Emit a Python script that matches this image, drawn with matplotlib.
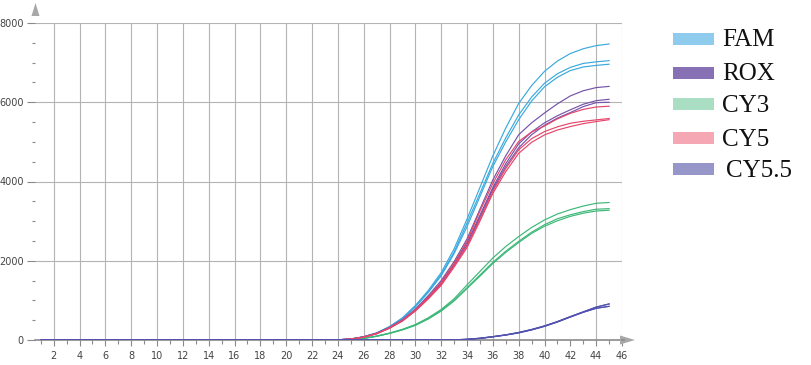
import matplotlib
matplotlib.use("Agg")
import matplotlib.pyplot as plt
from matplotlib.patches import Rectangle, Polygon

cycles = list(range(1, 46))
Z = [0] * 23  # cycles 1..23 are flat at baseline

fam = [
    Z + [5, 25, 85, 180, 340, 560, 870, 1250, 1700, 2300, 3050, 3850, 4650, 5350, 5970, 6420, 6780, 7040, 7230, 7350, 7430, 7470],
    Z + [5, 25, 80, 175, 330, 545, 850, 1220, 1650, 2220, 2950, 3700, 4460, 5100, 5680, 6130, 6480, 6720, 6880, 6980, 7020, 7050],
    Z + [5, 24, 78, 170, 325, 535, 835, 1200, 1620, 2180, 2860, 3620, 4380, 5000, 5560, 6030, 6390, 6630, 6800, 6890, 6930, 6960],
]
rox = [
    Z + [5, 25, 80, 170, 320, 510, 780, 1120, 1500, 1980, 2550, 3300, 4040, 4650, 5180, 5480, 5730, 5960, 6160, 6290, 6370, 6400],
    Z + [5, 23, 76, 165, 310, 495, 755, 1080, 1450, 1920, 2450, 3150, 3850, 4450, 4950, 5250, 5480, 5660, 5810, 5950, 6040, 6075],
    Z + [5, 22, 74, 162, 305, 490, 745, 1065, 1430, 1890, 2400, 3100, 3800, 4380, 4850, 5180, 5420, 5600, 5740, 5890, 5990, 6000],
]
cy3 = [
    Z + [2, 10, 45, 100, 175, 270, 390, 560, 770, 1040, 1390, 1730, 2070, 2360, 2610, 2840, 3030, 3180, 3290, 3380, 3450, 3470],
    Z + [2, 9, 42, 95, 168, 260, 375, 540, 745, 1000, 1320, 1640, 1960, 2240, 2490, 2720, 2910, 3060, 3160, 3240, 3300, 3315],
    Z + [2, 9, 40, 93, 165, 255, 370, 530, 730, 985, 1300, 1610, 1930, 2210, 2460, 2690, 2870, 3010, 3120, 3200, 3255, 3275],
]
cy5 = [
    Z + [5, 22, 75, 165, 310, 500, 760, 1080, 1450, 1930, 2500, 3250, 3950, 4550, 5010, 5250, 5400, 5580, 5720, 5820, 5880, 5900],
    Z + [4, 21, 72, 160, 300, 485, 740, 1050, 1400, 1870, 2380, 3050, 3750, 4330, 4800, 5080, 5260, 5380, 5470, 5520, 5555, 5590],
    Z + [4, 20, 70, 156, 295, 478, 730, 1035, 1380, 1840, 2330, 3000, 3700, 4250, 4710, 4990, 5176, 5300, 5386, 5460, 5512, 5560],
]
cy55 = [
    Z + [0, 0, 0, 0, 0, 0, 0, 0, 0, 5, 18, 45, 85, 130, 190, 265, 355, 465, 590, 710, 830, 910],
    Z + [0, 0, 0, 0, 0, 0, 0, 0, 0, 4, 15, 40, 80, 125, 180, 255, 345, 455, 580, 700, 800, 850],
]

series_names = ["FAM", "ROX", "CY3", "CY5", "CY5.5"]
line_colors = ["#3aa9de", "#7553a8", "#3cb878", "#e6466c", "#5252b0"]
legend_colors = ["#8ecbec", "#8870b4", "#a9ddc4", "#f5a8b4", "#9696c8"]
all_series = [fam, rox, cy3, cy5, cy55]

x_major = list(range(2, 47, 2))
y_major = [0, 2000, 4000, 6000, 8000]

W, H = 812, 365
fig = plt.figure(figsize=(W / 100, H / 100), dpi=100)
ax_l, ax_r, ax_b, ax_t = 35, 622, 340, 23
ax = fig.add_axes([ax_l / W, 1 - ax_b / H, (ax_r - ax_l) / W, (ax_b - ax_t) / H])
ax.set_xlim(0.55, 46)
ax.set_ylim(0, 8000)

grid_c = "#b4b4b4"
for xv in x_major:
    if xv == 42:
        continue
    ax.axvline(xv, color=grid_c, lw=0.8, zorder=1)
for yv in y_major[1:]:
    ax.axhline(yv, color=grid_c, lw=0.8, zorder=1)

for reps, c in zip(all_series, line_colors):
    for r in reps:
        ax.plot(cycles, r, color=c, lw=0.85, zorder=3)
for r in cy55:
    ax.plot(cycles, r, color=line_colors[4], lw=0.85, zorder=4)

for s in ["top", "right", "left"]:
    ax.spines[s].set_visible(False)
ax.spines["bottom"].set_color("#8a8a8a")
ax.spines["bottom"].set_linewidth(1.2)
ax.spines["bottom"].set_zorder(2)

ax.set_xticks(x_major)
ax.set_xticks(list(range(1, 46, 2)), minor=True)
ax.set_yticks(y_major)
ax.set_yticks([v for v in range(500, 8000, 500) if v % 2000], minor=True)
ax.tick_params(axis="x", which="major", length=4, width=0.8, color="#8a8a8a",
               labelsize=7, labelcolor="#444444", pad=4)
ax.tick_params(axis="x", which="minor", length=3, width=0.8, color="#8a8a8a")
ax.tick_params(axis="y", which="major", length=6, width=0.8, color="#8a8a8a",
               labelsize=7, labelcolor="#444444", pad=2)
ax.tick_params(axis="y", which="minor", length=2, width=0.8, color="#8a8a8a")

def px(x, y):
    return (x / W, 1 - y / H)

fig.add_artist(plt.Line2D([ax_r / W, 624 / W], [1 - ax_b / H, 1 - ax_b / H], color="#8a8a8a", lw=1.2))
fig.patches.append(Polygon([px(620, 335.5), px(635, 340), px(620, 344.5)], closed=True,
                           transform=fig.transFigure, facecolor="#a8a8a8", edgecolor="none"))
fig.patches.append(Polygon([px(31.5, 16), px(35.5, 3), px(39.5, 16)], closed=True,
                           transform=fig.transFigure, facecolor="#a8a8a8", edgecolor="none"))

centers = [38.5, 72.5, 104.5, 137.5, 169]
for name, c, cy in zip(series_names, legend_colors, centers):
    fig.patches.append(Rectangle(px(673, cy + 6), 41 / W, 12 / H, transform=fig.transFigure,
                                 facecolor=c, edgecolor="none"))
    tx = 722 if name != "CY5.5" else 726
    fig.text(tx / W, 1 - (cy + 8) / H, name, fontsize=18, family="Liberation Serif",
             color="#111111", va="baseline", ha="left")

fig.savefig("out.png", dpi=100)
